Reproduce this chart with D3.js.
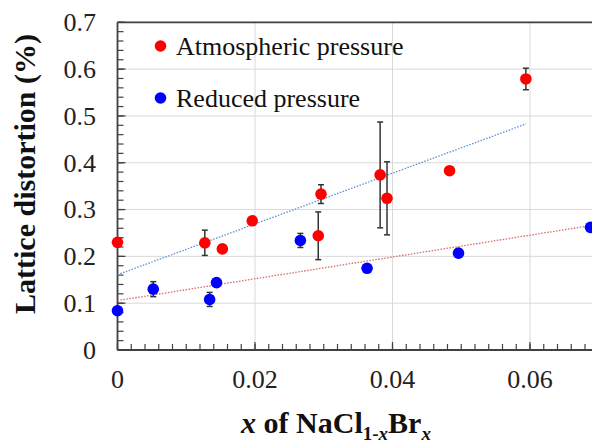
<!DOCTYPE html>
<html><head><meta charset="utf-8">
<script src="https://cdn.jsdelivr.net/npm/d3@7"></script>
<style>html,body{margin:0;padding:0;background:#fff;overflow:hidden}</style>
</head><body>
<script>
// Data
const atmosX   = [0, 0.0127, 0.01525, 0.0196, 0.0292, 0.0296, 0.0382, 0.0392, 0.0483, 0.0594];
const atmosY   = [0.230, 0.229, 0.216, 0.276, 0.244, 0.333, 0.374, 0.324, 0.383, 0.579];
const atmosErr = [0, 0.027, 0, 0, 0.051, 0.020, 0.113, 0.078, 0.006, 0.023];
const redX     = [0, 0.0052, 0.0134, 0.0144, 0.0266, 0.0363, 0.0496, 0.0688];
const redY     = [0.084, 0.130, 0.108, 0.144, 0.234, 0.1745, 0.207, 0.262];
const redErr   = [0, 0.016, 0.015, 0, 0.015, 0, 0.005, 0.006];
const xTicks = [0, 0.02, 0.04, 0.06];
const xTickLabels = ["0", "0.02", "0.04", "0.06"];
const yTicks = [0, 0.1, 0.2, 0.3, 0.4, 0.5, 0.6, 0.7];
const yTickLabels = ["0", "0.1", "0.2", "0.3", "0.4", "0.5", "0.6", "0.7"];
const seriesNames = ["Atmospheric pressure", "Reduced pressure"];

const W = 592, H = 444;
const FONT = "Liberation Serif";
const svg = d3.select("body").append("svg").attr("width", W).attr("height", H);

const x = d3.scaleLinear().domain([0, 0.08]).range([117.5, 667.5]);
const y = d3.scaleLinear().domain([0, 0.7]).range([350, 22.3]);
const axisCol = "#404040";

// gridlines
svg.append("g").selectAll("line").data(yTicks.slice(1)).join("line")
  .attr("x1", x(0)).attr("x2", W).attr("y1", d => y(d)).attr("y2", d => y(d))
  .attr("stroke", "#d9d9d9").attr("stroke-width", 1);
svg.append("g").selectAll("line").data(xTicks.slice(1)).join("line")
  .attr("x1", d => x(d)).attr("x2", d => x(d)).attr("y1", y(0)).attr("y2", y(0.7))
  .attr("stroke", "#d9d9d9").attr("stroke-width", 1);

// minor + major ticks
const yMinor = d3.range(0, 0.7001, 0.02);
svg.append("g").selectAll("line").data(yMinor).join("line")
  .attr("x1", x(0)).attr("x2", x(0) + 6).attr("y1", d => y(d)).attr("y2", d => y(d))
  .attr("stroke", axisCol).attr("stroke-width", 1.2);
svg.append("g").selectAll("line").data(yTicks).join("line")
  .attr("x1", x(0)).attr("x2", x(0) + 8).attr("y1", d => y(d)).attr("y2", d => y(d))
  .attr("stroke", axisCol).attr("stroke-width", 1.2);
const xMinor = d3.range(0, 0.0801, 0.002);
svg.append("g").selectAll("line").data(xMinor).join("line")
  .attr("x1", d => x(d)).attr("x2", d => x(d)).attr("y1", y(0)).attr("y2", y(0) - 6)
  .attr("stroke", axisCol).attr("stroke-width", 1.2);
svg.append("g").selectAll("line").data(xTicks).join("line")
  .attr("x1", d => x(d)).attr("x2", d => x(d)).attr("y1", y(0)).attr("y2", y(0) - 8)
  .attr("stroke", axisCol).attr("stroke-width", 1.2);

// frame
svg.append("line").attr("x1", x(0)).attr("x2", W).attr("y1", y(0)).attr("y2", y(0))
  .attr("stroke", axisCol).attr("stroke-width", 1.8);
svg.append("line").attr("x1", x(0)).attr("x2", W).attr("y1", y(0.7)).attr("y2", y(0.7))
  .attr("stroke", axisCol).attr("stroke-width", 1.8);
svg.append("line").attr("x1", x(0)).attr("x2", x(0)).attr("y1", y(0)).attr("y2", y(0.7))
  .attr("stroke", axisCol).attr("stroke-width", 1.8);

// tick labels
svg.append("g").selectAll("text").data(yTicks).join("text")
  .attr("font-family", FONT)
  .attr("x", 96).attr("y", d => y(d)).attr("dy", "0.34em").attr("text-anchor", "end")
  .attr("font-size", 26).attr("fill", "#222").text((d, i) => yTickLabels[i]);
svg.append("g").selectAll("text").data(xTicks).join("text")
  .attr("font-family", FONT)
  .attr("x", d => x(d)).attr("y", 388).attr("text-anchor", "middle")
  .attr("font-size", 26).attr("fill", "#222").text((d, i) => xTickLabels[i]);

// axis titles
svg.append("text").attr("transform", "translate(35,174) rotate(-90)")
  .attr("font-family", FONT)
  .attr("text-anchor", "middle").attr("font-size", 30).attr("font-weight", "bold")
  .attr("fill", "#111").text("Lattice distortion (%)");
const xt = svg.append("text").attr("x", 336).attr("y", 433).attr("text-anchor", "middle")
  .attr("font-family", FONT)
  .attr("font-size", 30).attr("font-weight", "bold").attr("fill", "#111");
xt.append("tspan").attr("font-style", "italic").text("x");
xt.append("tspan").text(" of NaCl");
xt.append("tspan").attr("font-size", 19).attr("dy", 7).text("1-");
xt.append("tspan").attr("font-size", 19).attr("font-style", "italic").text("x");
xt.append("tspan").attr("dy", -7).text("Br");
xt.append("tspan").attr("font-size", 19).attr("dy", 7).attr("font-style", "italic").text("x");

// trend lines (least squares)
function fit(xs, ys) {
  const mx = d3.mean(xs), my = d3.mean(ys);
  const b = d3.sum(xs, (v, i) => (v - mx) * (ys[i] - my)) / d3.sum(xs, v => (v - mx) ** 2);
  return { a: my - b * mx, b };
}
function trend(xs, ys, col) {
  const f = fit(xs, ys);
  const x0 = d3.min(xs), x1 = d3.max(xs);
  svg.append("line").attr("x1", x(x0)).attr("x2", x(x1))
    .attr("y1", y(f.a + f.b * x0)).attr("y2", y(f.a + f.b * x1))
    .attr("stroke", col).attr("stroke-width", 1.3).attr("stroke-dasharray", "1.5,1.5");
}
trend(atmosX, atmosY, "#5b8fd6");
trend(redX, redY, "#d66a6a");

// error bars + points
function series(xs, ys, es, col) {
  const g = svg.append("g");
  xs.forEach((xv, i) => {
    if (es[i] > 0) {
      const yt = y(ys[i] + es[i]), yb = y(ys[i] - es[i]);
      g.append("line").attr("x1", x(xv)).attr("x2", x(xv)).attr("y1", yt).attr("y2", yb)
        .attr("stroke", "#333").attr("stroke-width", 1.5);
      [yt, yb].forEach(yy => g.append("line").attr("x1", x(xv) - 3).attr("x2", x(xv) + 3)
        .attr("y1", yy).attr("y2", yy).attr("stroke", "#333").attr("stroke-width", 1.5));
    }
  });
  g.selectAll("circle").data(xs).join("circle")
    .attr("cx", d => x(d)).attr("cy", (d, i) => y(ys[i])).attr("r", 5.8).attr("fill", col);
}
series(atmosX, atmosY, atmosErr, "#ff0000");
series(redX, redY, redErr, "#0000ff");

// legend
const leg = [{ n: seriesNames[0], c: "#ff0000", y: 46 }, { n: seriesNames[1], c: "#0000ff", y: 98 }];
leg.forEach(l => {
  svg.append("circle").attr("cx", 160.5).attr("cy", l.y).attr("r", 5.8).attr("fill", l.c);
  svg.append("text").attr("x", 176).attr("y", l.y).attr("dy", "0.33em")
    .attr("font-family", FONT)
    .attr("font-size", 26).attr("fill", "#111").text(l.n);
});
</script>
</body></html>
